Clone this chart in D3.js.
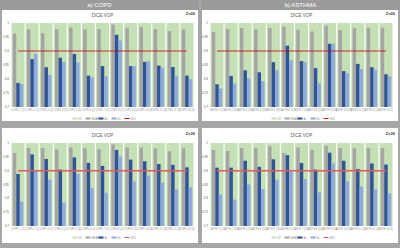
<!DOCTYPE html>
<html>
<head>
<meta charset="utf-8">
<script src="https://cdn.jsdelivr.net/npm/d3@7"></script>
<style>
  body { margin: 0; background: #a6a6a6; }
  svg { display: block; font-family: "Liberation Sans", Arial, sans-serif; }
</style>
</head>
<body>
<div id="container"></div>
<script>
// categories
const copdCats = ["COPD 1 (1)", "COPD 2 (1)", "COPD 3 (1)", "COPD 4 (2)", "COPD 5 (3)", "COPD 6 (1)", "COPD 7 (1)",
  "COPD 8 (1)", "COPD 9 (1)", "COPD 10 (3)", "COPD 11 (2)", "COPD 12 (3)", "COPD 13 (3)"];
const asthmaCats = ["ASTH 1 (1)", "ASTH 2 (16)", "ASTH 3 (16)", "ASTH 4 (16)", "ASTH 5 (16)", "ASTH 6 (1)", "ASTH 7 (16)",
  "ASTH 8 (16)", "ASTH 9 (16)", "ASTH 10 (16)", "ASTH 11 (1)", "ASTH 12 (1)", "ASTH 13 (1)"];
const yTicks = [0.7, 0.75, 0.8, 0.85, 0.9, 0.95, 1];
const legendLabels = ["GT", "MEAN Dx", "Ax", "Bx", "90%"];
const threshold = 0.9;

// a) COPD, Z=00
const copdTopGray = [0.962, 0.978, 0.964, 0.978, 0.984, 0.977, 0.978, 0.994, 0.982, 0.986, 0.978, 0.971, 0.977];
const copdTopA    = [0.786, 0.871, 0.842, 0.876, 0.889, 0.812, 0.846, 0.958, 0.846, 0.861, 0.848, 0.843, 0.812];
const copdTopB    = [0.782, 0.890, 0.814, 0.860, 0.859, 0.806, 0.810, 0.937, 0.846, 0.864, 0.840, 0.810, 0.799];
// b) ASTHMA, Z=00
const asthTopGray = [0.968, 0.978, 0.982, 0.977, 0.982, 0.987, 0.976, 0.970, 0.990, 0.975, 0.981, 0.983, 0.983];
const asthTopA    = [0.781, 0.811, 0.831, 0.824, 0.860, 0.919, 0.864, 0.839, 0.926, 0.828, 0.854, 0.842, 0.817];
const asthTopB    = [0.766, 0.784, 0.802, 0.792, 0.831, 0.867, 0.860, 0.785, 0.926, 0.821, 0.835, 0.833, 0.810];
// a) COPD, Z=30
const copdBotGray = [0.964, 0.982, 0.982, 0.977, 0.984, 0.981, 0.978, 0.995, 0.984, 0.984, 0.980, 0.970, 0.981];
const copdBotA    = [0.888, 0.959, 0.942, 0.904, 0.948, 0.928, 0.917, 0.975, 0.940, 0.934, 0.924, 0.921, 0.912];
const copdBotB    = [0.788, 0.899, 0.868, 0.785, 0.888, 0.837, 0.820, 0.951, 0.861, 0.882, 0.856, 0.832, 0.840];
// b) ASTHMA, Z=30
const asthBotGray = [0.975, 0.971, 0.982, 0.982, 0.988, 0.964, 0.984, 0.975, 0.990, 0.982, 0.981, 0.982, 0.982];
const asthBotA    = [0.911, 0.911, 0.936, 0.914, 0.941, 0.956, 0.928, 0.904, 0.965, 0.936, 0.906, 0.926, 0.922];
const asthBotB    = [0.814, 0.795, 0.850, 0.833, 0.868, 0.897, 0.870, 0.822, 0.926, 0.861, 0.843, 0.832, 0.818];

const colors = { gt: "#c5e0b4", gray: "#a5a5a5", a: "#2f5597", b: "#8faadc" };

const svg = d3.select("#container").append("svg")
  .attr("width", 400).attr("height", 248);

svg.append("rect").attr("width", 400).attr("height", 248).attr("fill", "#a6a6a6");

// headers
[["a) COPD", 0, 199], ["b) ASTHMA", 201, 400]].forEach(([t, x0, x1]) => {
  svg.append("rect").attr("x", x0).attr("y", 0).attr("width", x1 - x0).attr("height", 10).attr("fill", "#9b9b9b");
  svg.append("text").attr("x", (x0 + x1) / 2).attr("y", 7)
    .attr("text-anchor", "middle").attr("fill", "#fff").style("font-size", "6px").text(t);
});

function drawPanel(opt) {
  const g = svg.append("g");
  g.append("rect").attr("x", opt.box[0]).attr("y", opt.box[1])
    .attr("width", opt.box[2]).attr("height", opt.box[3]).attr("fill", "#fff");

  const x = d3.scaleBand().domain(opt.cats).range([opt.x0, opt.x1]).paddingInner(0.08).paddingOuter(0.04);
  const sub = d3.scaleBand().domain(["gray", "a", "b"]).range([0, x.bandwidth()]).paddingInner(0).paddingOuter(0.35);
  const y = d3.scaleLinear().domain([0.7, 1]).range([opt.y1, opt.y0]);

  g.append("text").attr("x", (opt.x0 + opt.x1) / 2).attr("y", opt.y0 - 6)
    .attr("text-anchor", "middle").attr("fill", "#595959").style("font-size", "4.5px").text("DICE VOP");
  g.append("text").attr("x", opt.box[0] + opt.box[2] - 3).attr("y", opt.y0 - 8)
    .attr("text-anchor", "end").attr("fill", "#333").style("font-size", "4px").style("font-weight", "bold").text(opt.z);

  // y axis labels
  g.selectAll(".yt").data(yTicks).join("text")
    .attr("x", opt.x0 - 2).attr("y", d => y(d) + 1)
    .attr("text-anchor", "end").attr("fill", "#595959").style("font-size", "3px")
    .text(d => d3.format("")(d));

  // GT background bars
  g.selectAll(".gt").data(opt.cats).join("rect")
    .attr("x", d => x(d)).attr("y", y(1)).attr("width", x.bandwidth()).attr("height", y(0.7) - y(1))
    .attr("fill", colors.gt);

  const series = [["gray", opt.gray], ["a", opt.a], ["b", opt.b]];
  series.forEach(([k, vals]) => {
    g.selectAll(".s" + k).data(vals).join("rect")
      .attr("x", (d, i) => x(opt.cats[i]) + sub(k)).attr("y", d => y(d))
      .attr("width", sub.bandwidth()).attr("height", d => y(0.7) - y(d))
      .attr("fill", colors[k]);
  });

  // threshold line
  const first = opt.cats[0], last = opt.cats[opt.cats.length - 1];
  g.append("line")
    .attr("x1", x(first) + x.bandwidth() / 2).attr("x2", x(last) + x.bandwidth() / 2)
    .attr("y1", y(threshold)).attr("y2", y(threshold))
    .attr("stroke", opt.lineColor).attr("stroke-width", opt.lineWidth);

  // category labels
  g.selectAll(".cl").data(opt.cats).join("text")
    .attr("x", d => x(d) + x.bandwidth() / 2).attr("y", opt.y1 + 4)
    .attr("text-anchor", "middle").attr("fill", "#8c8c8c").style("font-size", "2.6px").text(d => d);

  // legend
  const lc = [colors.gt, colors.gray, colors.a, colors.b, opt.lineColor];
  const lx = (opt.x0 + opt.x1) / 2 - 30;
  legendLabels.forEach((t, i) => {
    const xx = lx + i * 13;
    if (i < 4) g.append("rect").attr("x", xx).attr("y", opt.legendY - 1.5).attr("width", 5).attr("height", 2).attr("fill", lc[i]);
    else g.append("line").attr("x1", xx).attr("x2", xx + 5).attr("y1", opt.legendY - 0.5).attr("y2", opt.legendY - 0.5)
      .attr("stroke", lc[i]).attr("stroke-width", 1);
    g.append("text").attr("x", xx + 6).attr("y", opt.legendY + 0.7).attr("fill", "#8c8c8c").style("font-size", "2.6px").text(t);
  });
}

drawPanel({ box: [2, 10, 196, 111], x0: 11, x1: 194, y0: 23, y1: 107, legendY: 119, z: "Z=00",
  cats: copdCats, gray: copdTopGray, a: copdTopA, b: copdTopB, lineColor: "#c00000", lineWidth: 0.8 });
drawPanel({ box: [202, 10, 196, 111], x0: 210, x1: 393, y0: 23, y1: 107, legendY: 119, z: "Z=00",
  cats: asthmaCats, gray: asthTopGray, a: asthTopA, b: asthTopB, lineColor: "#c00000", lineWidth: 0.8 });
drawPanel({ box: [2, 128, 196, 115], x0: 11, x1: 194, y0: 143, y1: 226, legendY: 238, z: "Z=30",
  cats: copdCats, gray: copdBotGray, a: copdBotA, b: copdBotB, lineColor: "#e05a5a", lineWidth: 1.5 });
drawPanel({ box: [202, 128, 196, 115], x0: 210, x1: 393, y0: 143, y1: 226, legendY: 238, z: "Z=30",
  cats: asthmaCats, gray: asthBotGray, a: asthBotA, b: asthBotB, lineColor: "#e05a5a", lineWidth: 1.5 });
</script>
</body>
</html>
